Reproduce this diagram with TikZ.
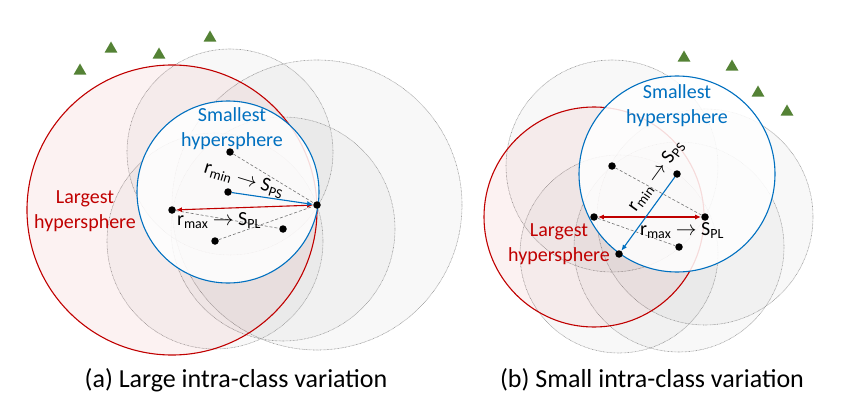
\documentclass[tikz,border=0pt]{standalone}
\usepackage{fontspec}
\setmainfont{Carlito}
\usetikzlibrary{arrows.meta,shapes.geometric}
\definecolor{myred}{RGB}{192,0,0}
\definecolor{myblue}{RGB}{0,112,192}
\definecolor{mygreen}{RGB}{84,130,53}
\begin{document}
\begin{tikzpicture}[x=1pt,y=-1pt,
  gcirc/.style={draw=black!40, dash pattern=on 0.7pt off 0.7pt, line width=0.6pt, fill=black, fill opacity=0.028},
  redcirc/.style={draw=myred, line width=1.1pt, fill=myred, fill opacity=0.05},
  bluecirc/.style={draw=myblue, line width=1.1pt, fill=white, fill opacity=0.86},
  pt/.style={circle, fill=black, inner sep=0pt, minimum size=7.5pt},
  dashline/.style={draw=black!55, line width=0.6pt, dash pattern=on 3pt off 2pt},
  redarr/.style={draw=myred, line width=1.1pt, {Latex[length=6pt,width=5pt]}-{Latex[length=6pt,width=5pt]}},
  bluearr/.style={draw=myblue, line width=1.1pt, -{Latex[length=6pt,width=5pt]}},
  tri/.style={regular polygon, regular polygon sides=3, fill=mygreen, inner sep=0pt, minimum size=15pt},
  lab/.style={font=\fontsize{20}{25}\selectfont, inner sep=0pt},
  captext/.style={font=\fontsize{26}{30}\selectfont, inner sep=0pt}]
\useasboundingbox (0,0) rectangle (861,409);

% ---------- panel (a) ----------
\node[tri] (ta1) at (80,71) {};
\node[tri] (ta2) at (111,49) {};
\node[tri] (ta3) at (159,55) {};
\node[tri] (ta4) at (210,38) {};

\coordinate (aF) at (317,205);
\coordinate (aR) at (172,210);
\coordinate (aB) at (228,192);
\coordinate (aA) at (230,152);
\coordinate (aC) at (283,229);
\coordinate (aD) at (215,241);

\path[gcirc] (aF) circle[radius=145];
\path[gcirc] (aA) circle[radius=103];
\path[gcirc] (aC) circle[radius=112];
\path[gcirc] (aD) circle[radius=108];
\path[redcirc] (aR) circle[radius=145];
\path[bluecirc] (aB) circle[radius=91];

\node[pt] (paF) at (aF) {};
\node[pt] (paR) at (aR) {};
\node[pt] (paB) at (aB) {};
\node[pt] (paA) at (aA) {};
\node[pt] (paC) at (aC) {};
\node[pt] (paD) at (aD) {};

\draw[dashline] (paA) -- (paF);
\draw[dashline] (paD) -- (paF);
\draw[dashline] (paR) -- (paC);
\draw[redarr] (paF) -- (paR);
\draw[bluearr] (paB) -- (paF);

\node[lab, text=myblue, align=center] (asmall) at (232,129) {Smallest\\hypersphere};
\node[lab, text=myred, align=center] (alarge) at (85,211) {Largest\\hypersphere};
\node[lab, rotate=-17] (armin) at (244,180) {r\textsubscript{min} $\rightarrow$ S\textsubscript{PS}};
\node[lab] (armax) at (219,221) {r\textsubscript{max} $\rightarrow$ S\textsubscript{PL}};
\node[captext] (capa) at (236,380) {(a) Large intra-class variation};

% ---------- panel (b) ----------
\node[tri] (tb1) at (684,58) {};
\node[tri] (tb2) at (732,67) {};
\node[tri] (tb3) at (758,93) {};
\node[tri] (tb4) at (787,112) {};

\coordinate (bF) at (705,217);
\coordinate (bR) at (594,217);
\coordinate (bB) at (677,174);
\coordinate (bP) at (612,166);
\coordinate (bQ) at (679,247);
\coordinate (bG) at (619,254);

\path[gcirc] (bP) circle[radius=106];
\path[gcirc] (bF) circle[radius=108];
\path[gcirc] (bG) circle[radius=99];
\path[gcirc] (bQ) circle[radius=105];
\path[redcirc] (bR) circle[radius=110];
\path[bluecirc] (bB) circle[radius=98];

\node[pt] (pbF) at (bF) {};
\node[pt] (pbR) at (bR) {};
\node[pt] (pbB) at (bB) {};
\node[pt] (pbP) at (bP) {};
\node[pt] (pbQ) at (bQ) {};
\node[pt] (pbG) at (bG) {};

\draw[dashline] (pbP) -- (pbF);
\draw[dashline] (pbR) -- (pbQ);
\draw[redarr] (pbF) -- (pbR);
\draw[bluearr] (pbB) -- (pbG);

\node[lab, text=myblue, align=center] (bsmall) at (677,106) {Smallest\\hypersphere};
\node[lab, text=myred, align=center] (blarge) at (559,244) {Largest\\hypersphere};
\node[lab, rotate=54] (brmin) at (656,176) {r\textsubscript{min} $\rightarrow$ S\textsubscript{PS}};
\node[lab] (brmax) at (682,231) {r\textsubscript{max} $\rightarrow$ S\textsubscript{PL}};
\node[captext] (capb) at (652,380) {(b) Small intra-class variation};
\end{tikzpicture}
\end{document}
